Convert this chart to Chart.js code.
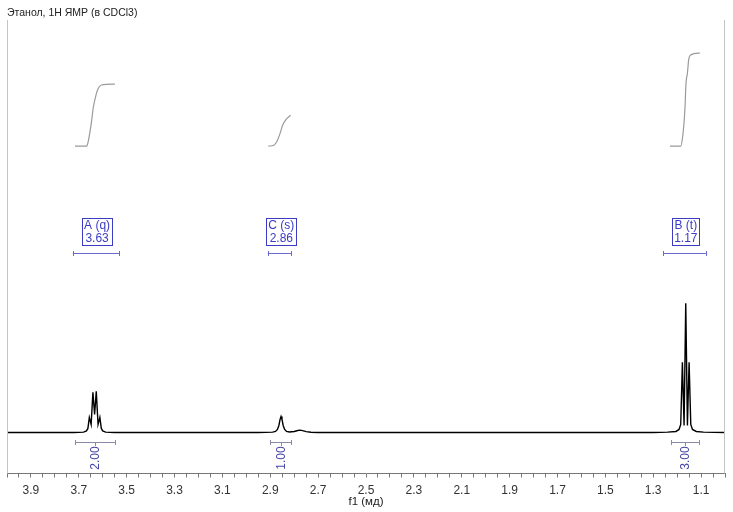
<!DOCTYPE html>
<html><head><meta charset="utf-8">
<script src="https://cdn.jsdelivr.net/npm/chart.js@4"></script>
<style>html,body{margin:0;padding:0;background:#fff}canvas{display:block}</style>
</head><body>
<canvas id="c" width="733" height="512"></canvas>
<script>
// ---- data ----
const titleText = 'Этанол, 1H ЯМР (в CDCl3)';
const axisTitle = 'f1 (мд)';
const xTickLabels = ['3.9','3.7','3.5','3.3','3.1','2.9','2.7','2.5','2.3','2.1','1.9','1.7','1.5','1.3','1.1'];

// spectrum trace (ppm, intensity)
const ppmA = [3.72, 3.68, 3.668, 3.662, 3.656, 3.6485, 3.641, 3.634, 3.627, 3.6195, 3.612, 3.606, 3.600, 3.588, 3.55];
const intA = [0,    0.3,  1.5,   4,     15,    8,      40,    18,    41,    8,      15,    4,     1.5,   0.3,   0];
const ppmC = [2.95, 2.89, 2.878, 2.870, 2.864, 2.859, 2.855, 2.851, 2.846, 2.840, 2.832, 2.82, 2.80, 2.785, 2.776, 2.765, 2.75, 2.73, 2.70];
const intC = [0,    0.3,  1,     3,     7,     13,    16,    13,    7,     3,     1,     0.5,  1,    2,     2.3,   1.8,   0.8,  0.2,  0];
const ppmB = [1.30, 1.24, 1.205, 1.192, 1.185, 1.178, 1.171, 1.164, 1.157, 1.150, 1.143, 1.136, 1.12, 1.09, 1.0];
const intB = [0,    0.3,  1,     3,     8,     70,    7,     129,   7,     70,    8,     3,     1,    0.3,  0];

// integral curves (ppm, integral units)
const igA_ppm = [3.716, 3.667, 3.661, 3.646, 3.640, 3.628, 3.619, 3.605, 3.549];
const igA_val = [0,     0,     0.14,  0.84,  1.22,  1.65,  1.86,  1.97,  2.0];
const igC_ppm = [2.908, 2.885, 2.873, 2.859, 2.848, 2.834, 2.815];
const igC_val = [0,     0.03,  0.14,  0.41,  0.68,  0.86,  1.0];
const igB_ppm = [1.230, 1.185, 1.177, 1.171, 1.167, 1.163, 1.157, 1.152, 1.143, 1.104];
const igB_val = [0,     0,     0.30,  0.78,  1.27,  2.02,  2.35,  2.77,  2.94,  3.0];

// multiplet labels
const multNames  = ['A (q)', 'C (s)', 'B (t)'];
const multShifts = ['3.63', '2.86', '1.17'];
const multFrom   = [3.725, 2.910, 1.259];
const multTo     = [3.532, 2.813, 1.080];
// integration labels
const integLabels = ['2.00', '1.00', '3.00'];
const integFrom   = [3.716, 2.901, 1.226];
const integTo     = [3.549, 2.813, 1.109];

// ---- build datasets ----
function pts(xs, ys){ return xs.map((x,i)=>({x:x, y:ys[i]})); }
const spectrum = [{x:4.0,y:0}].concat(pts(ppmA,intA), pts(ppmC,intC), pts(ppmB,intB));

const FONT = "'Liberation Sans', Arial, sans-serif";
const BLUE = '#3b3bc4';

const annot = {
  id: 'annot',
  afterDatasetsDraw(chart){
    const c = chart.ctx, xs = chart.scales.x, a = chart.chartArea;
    c.save();
    // side frame
    c.strokeStyle = '#c4c4c4'; c.lineWidth = 1;
    c.beginPath();
    c.moveTo(Math.round(a.left)+0.5, 20); c.lineTo(Math.round(a.left)+0.5, a.bottom);
    c.moveTo(Math.round(a.right)-0.5, 20); c.lineTo(Math.round(a.right)-0.5, a.bottom);
    c.stroke();
    // multiplet boxes
    c.font = '12px ' + FONT;
    c.textAlign = 'center'; c.textBaseline = 'middle';
    for (let i=0;i<multNames.length;i++){
      const cx = xs.getPixelForValue(parseFloat(multShifts[i])) + 1.5;
      const w = Math.max(c.measureText(multNames[i]).width, c.measureText(multShifts[i]).width) + 4;
      const x0 = Math.round(cx - w/2) + 0.5;
      c.strokeStyle = BLUE; c.lineWidth = 1;
      c.strokeRect(x0, 218.5, Math.round(w), 27);
      c.fillStyle = BLUE;
      c.fillText(multNames[i], cx, 226);
      c.fillText(multShifts[i], cx, 239);
      const l = xs.getPixelForValue(multFrom[i]), r = xs.getPixelForValue(multTo[i]);
      c.strokeStyle = '#6a6ad0';
      c.beginPath();
      c.moveTo(l, 253.5); c.lineTo(r, 253.5);
      c.moveTo(Math.round(l)+0.5, 251); c.lineTo(Math.round(l)+0.5, 256);
      c.moveTo(Math.round(r)+0.5, 251); c.lineTo(Math.round(r)+0.5, 256);
      c.stroke();
    }
    // integration brackets
    for (let i=0;i<integLabels.length;i++){
      const l = xs.getPixelForValue(integFrom[i]), r = xs.getPixelForValue(integTo[i]);
      const m = Math.round((l+r)/2)+0.5;
      c.strokeStyle = '#8a8aa6'; c.lineWidth = 1;
      c.beginPath();
      c.moveTo(l, 442.5); c.lineTo(r, 442.5);
      c.moveTo(Math.round(l)+0.5, 440); c.lineTo(Math.round(l)+0.5, 445);
      c.moveTo(Math.round(r)+0.5, 440); c.lineTo(Math.round(r)+0.5, 445);
      c.moveTo(m, 442.5); c.lineTo(m, 446);
      c.stroke();
      c.save();
      c.translate(m, 458);
      c.rotate(-Math.PI/2);
      c.fillStyle = '#4646a4';
      c.font = '12px ' + FONT;
      c.fillText(integLabels[i], 0, 0);
      c.restore();
    }
    c.restore();
  }
};

new Chart(document.getElementById('c'), {
  type: 'scatter',
  data: { datasets: [
    { data: spectrum, showLine: true, borderColor: '#000', borderWidth: 1.4, pointRadius: 0, tension: 0, yAxisID: 'y' },
    { data: pts(igA_ppm, igA_val), showLine: true, borderColor: '#9a9a9a', borderWidth: 1.2, pointRadius: 0, cubicInterpolationMode: 'monotone', yAxisID: 'yi' },
    { data: pts(igC_ppm, igC_val), showLine: true, borderColor: '#9a9a9a', borderWidth: 1.2, pointRadius: 0, cubicInterpolationMode: 'monotone', yAxisID: 'yi' },
    { data: pts(igB_ppm, igB_val), showLine: true, borderColor: '#9a9a9a', borderWidth: 1.2, pointRadius: 0, cubicInterpolationMode: 'monotone', yAxisID: 'yi' }
  ]},
  options: {
    responsive: false, animation: false, devicePixelRatio: 1,
    layout: { padding: { left: 7, right: 8, top: 0, bottom: 4 } },
    plugins: {
      legend: { display: false }, tooltip: { enabled: false },
      title: { display: true, text: titleText, align: 'start', color: '#222',
               font: { family: FONT, size: 10.5, weight: 'normal' }, padding: { top: 7, bottom: 0 } }
    },
    scales: {
      x: {
        type: 'linear', reverse: true, min: 1.0, max: 4.0,
        afterBuildTicks(s){ const t=[]; for (let k=0;k<=60;k++) t.push({value: +(1.0 + k*0.05).toFixed(2)}); s.ticks = t; },
        ticks: { autoSkip: false, maxRotation: 0, minRotation: 0, padding: 7, color: '#333',
                 font: { family: FONT, size: 12, lineHeight: 1.0 },
                 callback(v){ const s = (+v).toFixed(1); return (Math.abs(v - +s) < 1e-6 && xTickLabels.includes(s)) ? s : ''; } },
        grid: { drawOnChartArea: false, drawTicks: true, tickLength: 4, color: '#777' },
        border: { display: true, color: '#777', width: 1 },
        title: { display: true, text: axisTitle, color: '#222', font: { family: FONT, size: 11.5, lineHeight: 1.0 }, padding: { top: -7, bottom: 0 } }
      },
      y:  { display: false, min: -41, max: 412.4 },
      yi: { display: false, min: -10.548, max: 4.077 }
    }
  },
  plugins: [annot]
});
</script>
</body></html>
